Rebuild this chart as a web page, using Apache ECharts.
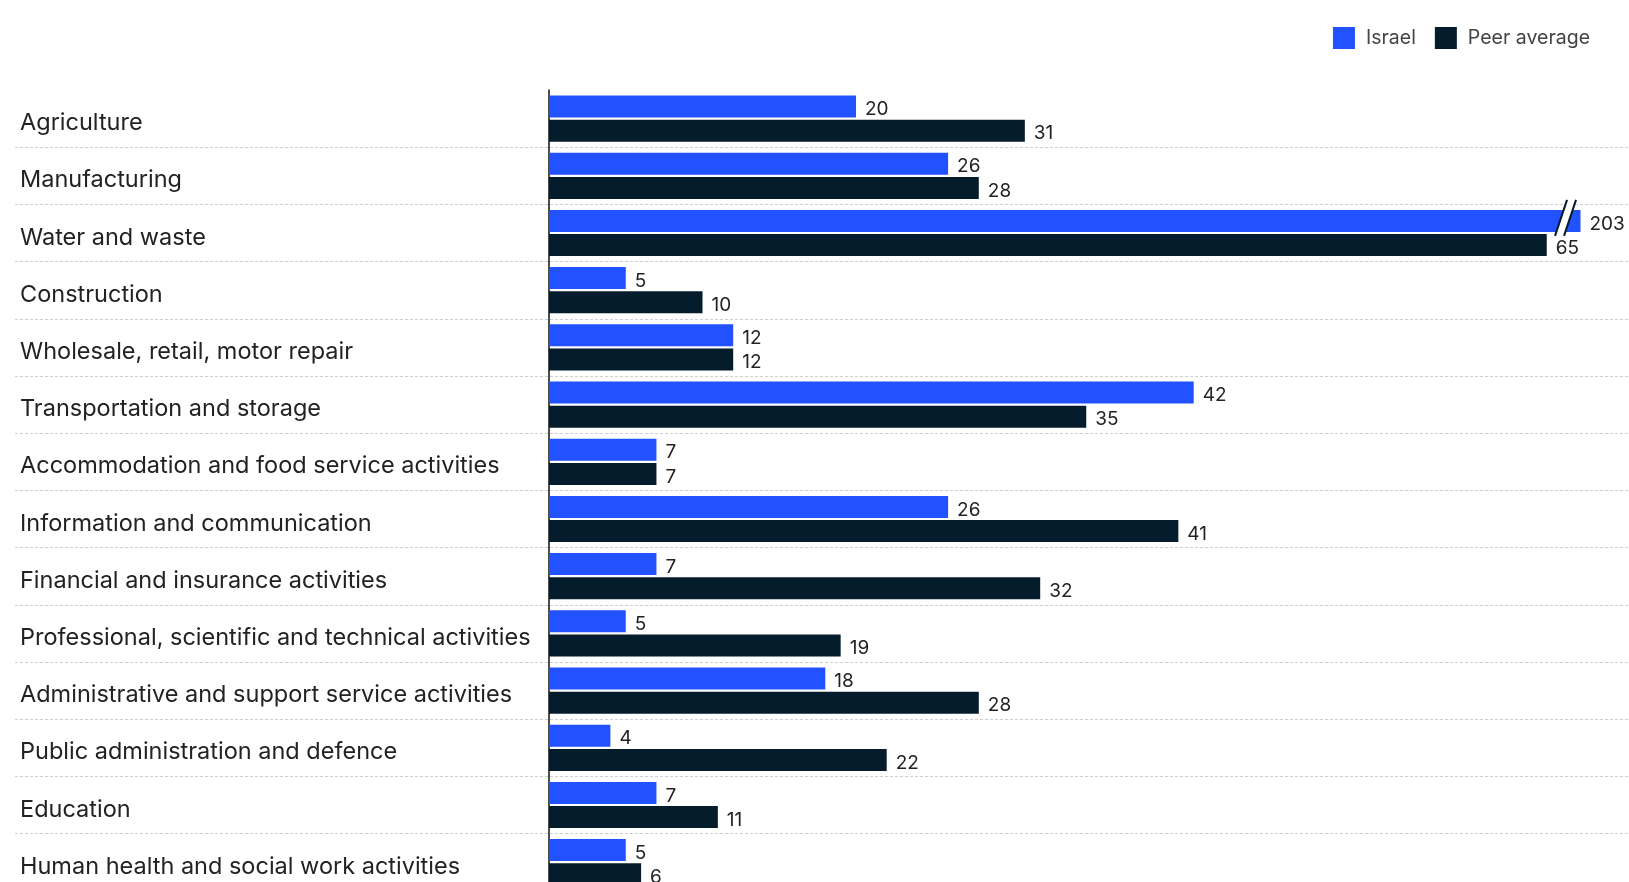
<!DOCTYPE html>
<html>
<head>
<meta charset="utf-8">
<script src="https://cdn.jsdelivr.net/npm/echarts@6/dist/echarts.min.js"></script>
<style>
  html, body { margin: 0; padding: 0; background: #fff; }
  #chart { width: 1629px; height: 882px; }
</style>
</head>
<body>
<div id="chart"></div>
<script>
// Sector categories, top to bottom
var sectors = [
    'Agriculture',
    'Manufacturing',
    'Water and waste',
    'Construction',
    'Wholesale, retail, motor repair',
    'Transportation and storage',
    'Accommodation and food service activities',
    'Information and communication',
    'Financial and insurance activities',
    'Professional, scientific and technical activities',
    'Administrative and support service activities',
    'Public administration and defence',
    'Education',
    'Human health and social work activities'
];
var israel = [20, 26, 203, 5, 12, 42, 7, 26, 7, 5, 18, 4, 7, 5];
var peerAverage = [31, 28, 65, 10, 12, 35, 7, 41, 32, 19, 28, 22, 11, 6];

// bars longer than this are cut with a break mark
var BREAK_AT = 67.2;

var BLUE = '#2251ff';
var NAVY = '#051c2c';
var FONT = 'Inter';
var ROW = 57.2;
var BAR_W = 22;

var chart = echarts.init(document.getElementById('chart'));

var israelShown = israel.map(function (v) { return Math.min(v, BREAK_AT); });
var breaks = [];
israel.forEach(function (v, i) { if (v > BREAK_AT) breaks.push([BREAK_AT, i]); });

var valueLabel = {
    show: true,
    position: 'right',
    distance: 9,
    offset: [0, 3],
    color: '#222',
    fontSize: 19,
    fontFamily: FONT
};

var option = {
    backgroundColor: '#fff',
    animation: false,
    legend: {
        data: ['Israel', 'Peer average'],
        right: 34,
        top: 22,
        icon: 'rect',
        itemWidth: 22,
        itemHeight: 22,
        itemGap: 19,
        textStyle: {
            color: '#444',
            fontSize: 19.5,
            fontFamily: FONT,
            padding: [0, 0, 0, 6]
        }
    },
    grid: [
        { left: 549, top: 90, width: 70 * 15.35, height: sectors.length * ROW, outerBoundsMode: 'none' },
        { left: 15, top: 90, right: 0, height: sectors.length * ROW, outerBoundsMode: 'none' }
    ],
    xAxis: [
        { gridIndex: 0, type: 'value', min: 0, max: 70, show: false },
        { gridIndex: 1, type: 'value', min: 0, max: 1, show: false }
    ],
    yAxis: [
        {
            gridIndex: 0,
            type: 'category',
            data: sectors,
            inverse: true,
            axisLine: { show: true, lineStyle: { color: '#111', width: 1.5 } },
            axisTick: { show: false },
            splitLine: { show: false },
            axisLabel: {
                align: 'left',
                verticalAlign: 'top',
                lineHeight: 9,
                margin: 529,
                color: '#222',
                fontSize: 23.5,
                fontFamily: FONT
            }
        },
        {
            // separators between rows, running under the labels too
            gridIndex: 1,
            type: 'category',
            data: sectors,
            inverse: true,
            axisLine: { show: false },
            axisTick: { show: false },
            axisLabel: { show: false },
            splitLine: {
                show: true,
                showMinLine: false,
                lineStyle: { color: '#cfcfcf', width: 1, type: [3, 2] }
            }
        }
    ],
    series: [
        {
            name: 'Israel',
            type: 'bar',
            data: israelShown,
            barWidth: BAR_W,
            barGap: '10%',
            itemStyle: { color: BLUE },
            label: Object.assign({}, valueLabel, {
                formatter: function (p) { return israel[p.dataIndex]; }
            })
        },
        {
            name: 'Peer average',
            type: 'bar',
            data: peerAverage,
            barWidth: BAR_W,
            barGap: '10%',
            itemStyle: { color: NAVY },
            label: valueLabel
        },
        {
            // "//" break mark on bars that run off the scale
            type: 'custom',
            data: breaks,
            z: 10,
            silent: true,
            encode: { x: 0, y: 1 },
            renderItem: function (params, api) {
                var p = api.coord([api.value(0), api.value(1)]);
                var yc = p[1] - (BAR_W + BAR_W * 0.1) / 2;
                var yt = yc - BAR_W / 2 - 10;
                var yb = yc + BAR_W / 2 + 4;
                var cx = p[0] - 15;
                var s = 6, w = 9;
                return {
                    type: 'group',
                    children: [
                        {
                            type: 'polygon',
                            shape: { points: [[cx - s - w / 2, yb], [cx - s + w / 2, yb], [cx + s + w / 2, yt], [cx + s - w / 2, yt]] },
                            style: { fill: '#fff' }
                        },
                        {
                            type: 'line',
                            shape: { x1: cx - s - w / 2, y1: yb, x2: cx + s - w / 2, y2: yt },
                            style: { stroke: NAVY, lineWidth: 2 }
                        },
                        {
                            type: 'line',
                            shape: { x1: cx - s + w / 2, y1: yb, x2: cx + s + w / 2, y2: yt },
                            style: { stroke: NAVY, lineWidth: 2 }
                        }
                    ]
                };
            }
        }
    ]
};

chart.setOption(option);

window.addEventListener('resize', function () {
    chart.resize();
});
</script>
</body>
</html>
